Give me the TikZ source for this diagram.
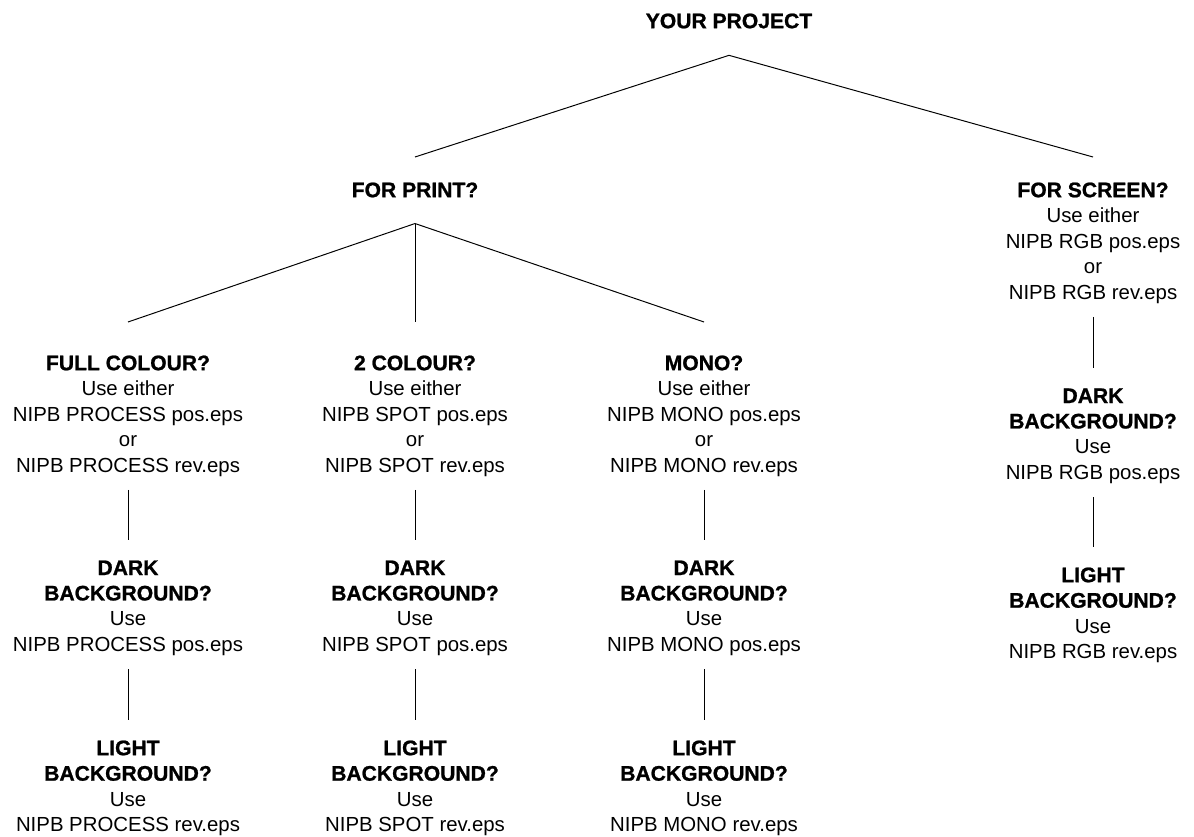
\documentclass[tikz,border=0pt]{standalone}
\usepackage{fontspec}
\setmainfont{Liberation Sans}
\newfontfamily\headfont{Liberation Sans Bold}[FakeBold=1]
\newcommand\hd[1]{{\headfont\fontsize{15}{18.1}\selectfont #1}}

\begin{document}
\begin{tikzpicture}[x=0.025cm,y=-0.025cm,line width=0.7pt,
  box/.style={anchor=north,align=center,inner sep=0pt,font=\fontsize{14.5}{18.1}\selectfont},
  link/.style={shorten <=3.25mm,shorten >=5mm}]
\useasboundingbox (0,0) rectangle (1194,836);
\node[box] (proj) at (729,13) {\hd{YOUR PROJECT}};
\node[box] (print) at (415,182) {\hd{FOR PRINT?}};
\node[box] (screen) at (1093,182) {\hd{FOR SCREEN?}\\Use either\\NIPB RGB pos.eps\\or\\NIPB RGB rev.eps};
\node[box] (full) at (128,355) {\hd{FULL COLOUR?}\\Use either\\NIPB PROCESS pos.eps\\or\\NIPB PROCESS rev.eps};
\node[box] (spot) at (415,355) {\hd{2 COLOUR?}\\Use either\\NIPB SPOT pos.eps\\or\\NIPB SPOT rev.eps};
\node[box] (mono) at (704,355) {\hd{MONO?}\\Use either\\NIPB MONO pos.eps\\or\\NIPB MONO rev.eps};
\node[box] (fulldark) at (128,560) {\hd{DARK}\\\hd{BACKGROUND?}\\Use\\NIPB PROCESS pos.eps};
\node[box] (spotdark) at (415,560) {\hd{DARK}\\\hd{BACKGROUND?}\\Use\\NIPB SPOT pos.eps};
\node[box] (monodark) at (704,560) {\hd{DARK}\\\hd{BACKGROUND?}\\Use\\NIPB MONO pos.eps};
\node[box] (fulllight) at (128,740) {\hd{LIGHT}\\\hd{BACKGROUND?}\\Use\\NIPB PROCESS rev.eps};
\node[box] (spotlight) at (415,740) {\hd{LIGHT}\\\hd{BACKGROUND?}\\Use\\NIPB SPOT rev.eps};
\node[box] (monolight) at (704,740) {\hd{LIGHT}\\\hd{BACKGROUND?}\\Use\\NIPB MONO rev.eps};
\node[box] (screendark) at (1093,388) {\hd{DARK}\\\hd{BACKGROUND?}\\Use\\NIPB RGB pos.eps};
\node[box] (screenlight) at (1093,567) {\hd{LIGHT}\\\hd{BACKGROUND?}\\Use\\NIPB RGB rev.eps};
% tree lines
\draw ([yshift=-6.6mm]proj.south) -- ([yshift=6.25mm]print.north);
\draw ([yshift=-6.6mm]proj.south) -- ([yshift=6.25mm]screen.north);
\draw ([yshift=-6.4mm]print.south) -- ([yshift=8.25mm]full.north);
\draw ([yshift=-6.4mm]print.south) -- ([yshift=8.25mm]spot.north);
\draw ([yshift=-6.4mm]print.south) -- ([yshift=8.25mm]mono.north);
\draw[link] (full) -- (fulldark);
\draw[link] (spot) -- (spotdark);
\draw[link] (mono) -- (monodark);
\draw[link] (fulldark) -- (fulllight);
\draw[link] (spotdark) -- (spotlight);
\draw[link] (monodark) -- (monolight);
\draw[link] (screen) -- (screendark);
\draw[link] (screendark) -- (screenlight);
\end{tikzpicture}
\end{document}
